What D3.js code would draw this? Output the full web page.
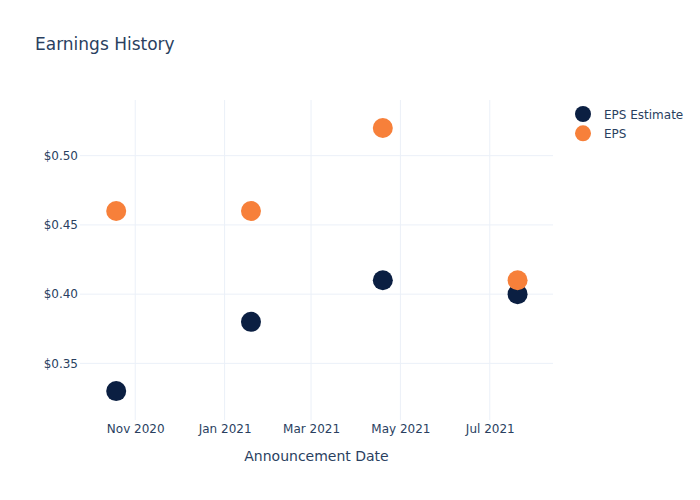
<!DOCTYPE html>
<html>
<head>
<meta charset="utf-8">
<script src="https://cdn.jsdelivr.net/npm/d3@7"></script>
<style>
  body { margin: 0; background: #fff; }
  svg text { font-family: "DejaVu Sans", Verdana, sans-serif; fill: #2a3f5f; }
</style>
</head>
<body>
<div id="chart"></div>
<script>
// announcement dates and eps values
var dates = ["2020-10-19", "2021-01-19", "2021-04-19", "2021-07-20"];
var epsEstimate = [0.33, 0.38, 0.41, 0.40];
var epsActual = [0.46, 0.46, 0.52, 0.41];
var yTicks = [0.35, 0.40, 0.45, 0.50];
var seriesNames = ["EPS Estimate", "EPS"];
var seriesColors = ["#0b1f42", "#f7803a"];

var width = 700, height = 500;
var margin = {top: 100, right: 147, bottom: 80, left: 80};
var parse = d3.timeParse("%Y-%m-%d");

var svg = d3.select("#chart")
    .append("svg")
    .attr("width", width)
    .attr("height", height);

var x = d3.scaleTime()
    .domain([new Date(2020, 8, 24, 7), new Date(2021, 7, 13, 4)])
    .range([margin.left, width - margin.right]);

var y = d3.scaleLinear()
    .domain([0.3091, 0.5402])
    .range([height - margin.bottom, margin.top]);

// grid
var xTicks = x.ticks(d3.timeMonth.every(2));
svg.append("g")
    .selectAll("line")
    .data(xTicks)
    .enter()
    .append("line")
    .attr("x1", d => x(d)).attr("x2", d => x(d))
    .attr("y1", margin.top).attr("y2", height - margin.bottom)
    .style("stroke", "#ebf0f8")
    .style("stroke-width", 1);

svg.append("g")
    .selectAll("line")
    .data(yTicks)
    .enter()
    .append("line")
    .attr("x1", margin.left).attr("x2", width - margin.right)
    .attr("y1", d => y(d)).attr("y2", d => y(d))
    .style("stroke", "#ebf0f8")
    .style("stroke-width", 1);

// axes
var xAxis = svg.append("g")
    .attr("transform", "translate(0," + (height - margin.bottom) + ")")
    .call(d3.axisBottom(x).tickValues(xTicks).tickFormat(d3.timeFormat("%b %Y")).tickSize(0).tickPadding(4));
xAxis.select(".domain").remove();
xAxis.selectAll("text").style("font-size", "12px").style("fill", "#2a3f5f");

var yAxis = svg.append("g")
    .attr("transform", "translate(" + margin.left + ",0)")
    .call(d3.axisLeft(y).tickValues(yTicks).tickFormat(d => "$" + d3.format(".2f")(d)).tickSize(0).tickPadding(2));
yAxis.select(".domain").remove();
yAxis.selectAll("text").style("font-size", "12px").style("fill", "#2a3f5f");

// points
var series = [epsEstimate, epsActual];
series.forEach(function(vals, s) {
    svg.append("g")
        .selectAll("circle")
        .data(vals)
        .enter()
        .append("circle")
        .attr("cx", (d, i) => x(parse(dates[i])))
        .attr("cy", d => y(d))
        .attr("r", 10)
        .style("fill", seriesColors[s]);
});

// title
svg.append("text")
    .attr("x", 35)
    .attr("y", 50)
    .style("font-size", "17px")
    .text("Earnings History");

svg.append("text")
    .attr("x", (margin.left + width - margin.right) / 2)
    .attr("y", 461)
    .attr("text-anchor", "middle")
    .style("font-size", "14px")
    .text("Announcement Date");

// legend
var legend = svg.selectAll(".legend")
    .data(seriesNames)
    .enter()
    .append("g")
    .attr("class", "legend")
    .attr("transform", (d, i) => "translate(583," + (114 + i * 19.3) + ")");

legend.append("circle")
    .attr("r", 8)
    .style("fill", (d, i) => seriesColors[i]);

legend.append("text")
    .attr("x", 21)
    .attr("y", 4.5)
    .style("font-size", "12px")
    .text(d => d);
</script>
</body>
</html>
